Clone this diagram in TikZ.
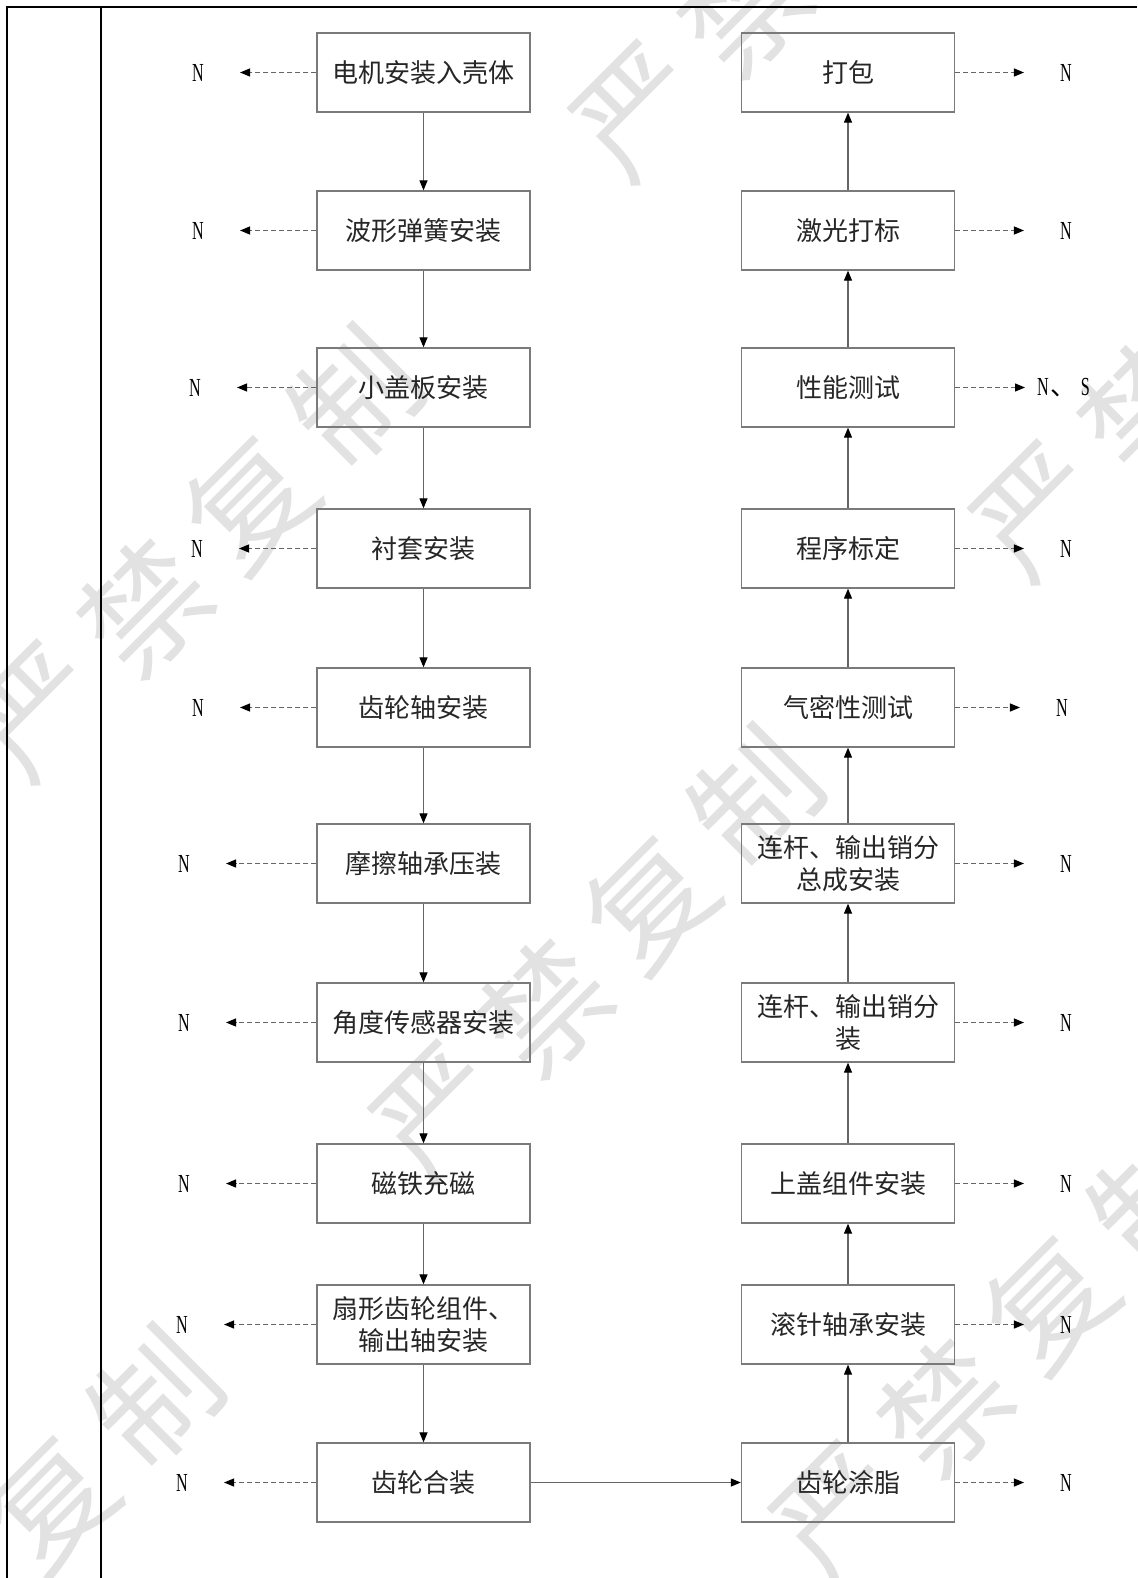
\documentclass[tikz,border=0pt]{standalone}
\usepackage{fontspec}
\setmainfont{Noto Sans CJK SC}
\newfontfamily\cjkfont{Noto Sans CJK SC}
\newfontfamily\nfont[FakeStretch=0.62]{Liberation Serif}
\usetikzlibrary{arrows.meta}
\definecolor{boxgray}{HTML}{7A7A7A}
\definecolor{linegray}{HTML}{666666}
\definecolor{wmgray}{HTML}{E2E2E2}
\definecolor{textc}{HTML}{262626}
\begin{document}
\begin{tikzpicture}[x=1pt,y=-1pt,
  box/.style={draw=boxgray, line width=1.3pt, minimum width=213pt, minimum height=79pt,
    inner sep=0pt, align=center, text=textc, font=\fontsize{26pt}{32pt}\selectfont},
  nlab/.style={inner sep=0pt, text=black, font=\fontsize{26pt}{30pt}\nfont},
  flow/.style={draw=linegray, line width=1.2pt, -{Triangle[length=10pt,width=8pt,color=black]}},
  dflow/.style={flow, dash pattern=on 5pt off 3pt},
  wm/.style={text=wmgray, rotate=45, inner sep=0pt, font=\fontsize{124pt}{124pt}\selectfont},
  frame/.style={draw=black, line width=1.8pt}
]
\useasboundingbox (0,0) rectangle (1137,1578);
\fill[white] (0,0) rectangle (1137,1578);

% watermarks
\begin{scope}
\clip (0,0) rectangle (1137,1578);
\foreach \g/\bx/\by in {A/640/112, B/40/712, C/440/1112, D/1040/512, E/-160/1712, F/840/1512}{
  \foreach \c [count=\i from 0] in {严,禁,复,制}{
    \node[wm] (wm\g\i) at (\bx+105*\i, \by-105*\i) {\c};
  }
}
\end{scope}

% frame
\draw[frame] (7,1578) -- (7,7) -- (1137,7);
\draw[frame] (101,7) -- (101,1578);

% left column
\node[box] (L1) at (423.5,72.5) {电机安装入壳体};
\node[box] (L2) at (423.5,230.5) {波形弹簧安装};
\node[box] (L3) at (423.5,387.5) {小盖板安装};
\node[box] (L4) at (423.5,548.5) {衬套安装};
\node[box] (L5) at (423.5,707.5) {齿轮轴安装};
\node[box] (L6) at (423.5,863.5) {摩擦轴承压装};
\node[box] (L7) at (423.5,1022.5) {角度传感器安装};
\node[box] (L8) at (423.5,1183.5) {磁铁充磁};
\node[box] (L9) at (423.5,1324.5) {扇形齿轮组件、\\输出轴安装};
\node[box] (L10) at (423.5,1482.5) {齿轮合装};

% right column
\node[box] (R1) at (848,72.5) {打包};
\node[box] (R2) at (848,230.5) {激光打标};
\node[box] (R3) at (848,387.5) {性能测试};
\node[box] (R4) at (848,548.5) {程序标定};
\node[box] (R5) at (848,707.5) {气密性测试};
\node[box] (R6) at (848,863.5) {连杆、输出销分\\总成安装};
\node[box] (R7) at (848,1022.5) {连杆、输出销分\\装};
\node[box] (R8) at (848,1183.5) {上盖组件安装};
\node[box] (R9) at (848,1324.5) {滚针轴承安装};
\node[box] (R10) at (848,1482.5) {齿轮涂脂};

% left N labels
\node[nlab] (NL1) at (198,72.5) {N};
\node[nlab] (NL2) at (198,230.5) {N};
\node[nlab] (NL3) at (195,387.5) {N};
\node[nlab] (NL4) at (197,548.5) {N};
\node[nlab] (NL5) at (198,707.5) {N};
\node[nlab] (NL6) at (184,863.5) {N};
\node[nlab] (NL7) at (184,1022.5) {N};
\node[nlab] (NL8) at (184,1183.5) {N};
\node[nlab] (NL9) at (182,1324.5) {N};
\node[nlab] (NL10) at (182,1482.5) {N};

% right N labels
\node[nlab] (NR1) at (1066,72.5) {N};
\node[nlab] (NR2) at (1066,230.5) {N};
\node[nlab, anchor=west] (NR3) at (1037,387.5) {N\hspace{2pt}{\cjkfont 、}\hspace{4pt}S};
\node[nlab] (NR4) at (1066,548.5) {N};
\node[nlab] (NR5) at (1062,707.5) {N};
\node[nlab] (NR6) at (1066,863.5) {N};
\node[nlab] (NR7) at (1066,1022.5) {N};
\node[nlab] (NR8) at (1066,1183.5) {N};
\node[nlab] (NR9) at (1066,1324.5) {N};
\node[nlab] (NR10) at (1066,1482.5) {N};

% main flow
\foreach \a/\b in {1/2,2/3,3/4,4/5,5/6,6/7,7/8,8/9,9/10}{
  \draw[flow] (L\a.south) -- (L\b.north);
  \draw[flow] (R\b.north) -- (R\a.south);
}
\draw[flow] (L10.east) -- (R10.west);

% dashed side arrows
\foreach \i in {1,...,10}{
  \draw[dflow] (L\i.west) -- ([xshift=36pt]NL\i.east);
}
\foreach \i in {1,2,4,5,6,7,8,9,10}{
  \draw[dflow] (R\i.east) -- ([xshift=-36pt]NR\i.west);
}
\draw[dflow] (R3.east) -- ([xshift=-12pt]NR3.west);
\end{tikzpicture}
\end{document}
